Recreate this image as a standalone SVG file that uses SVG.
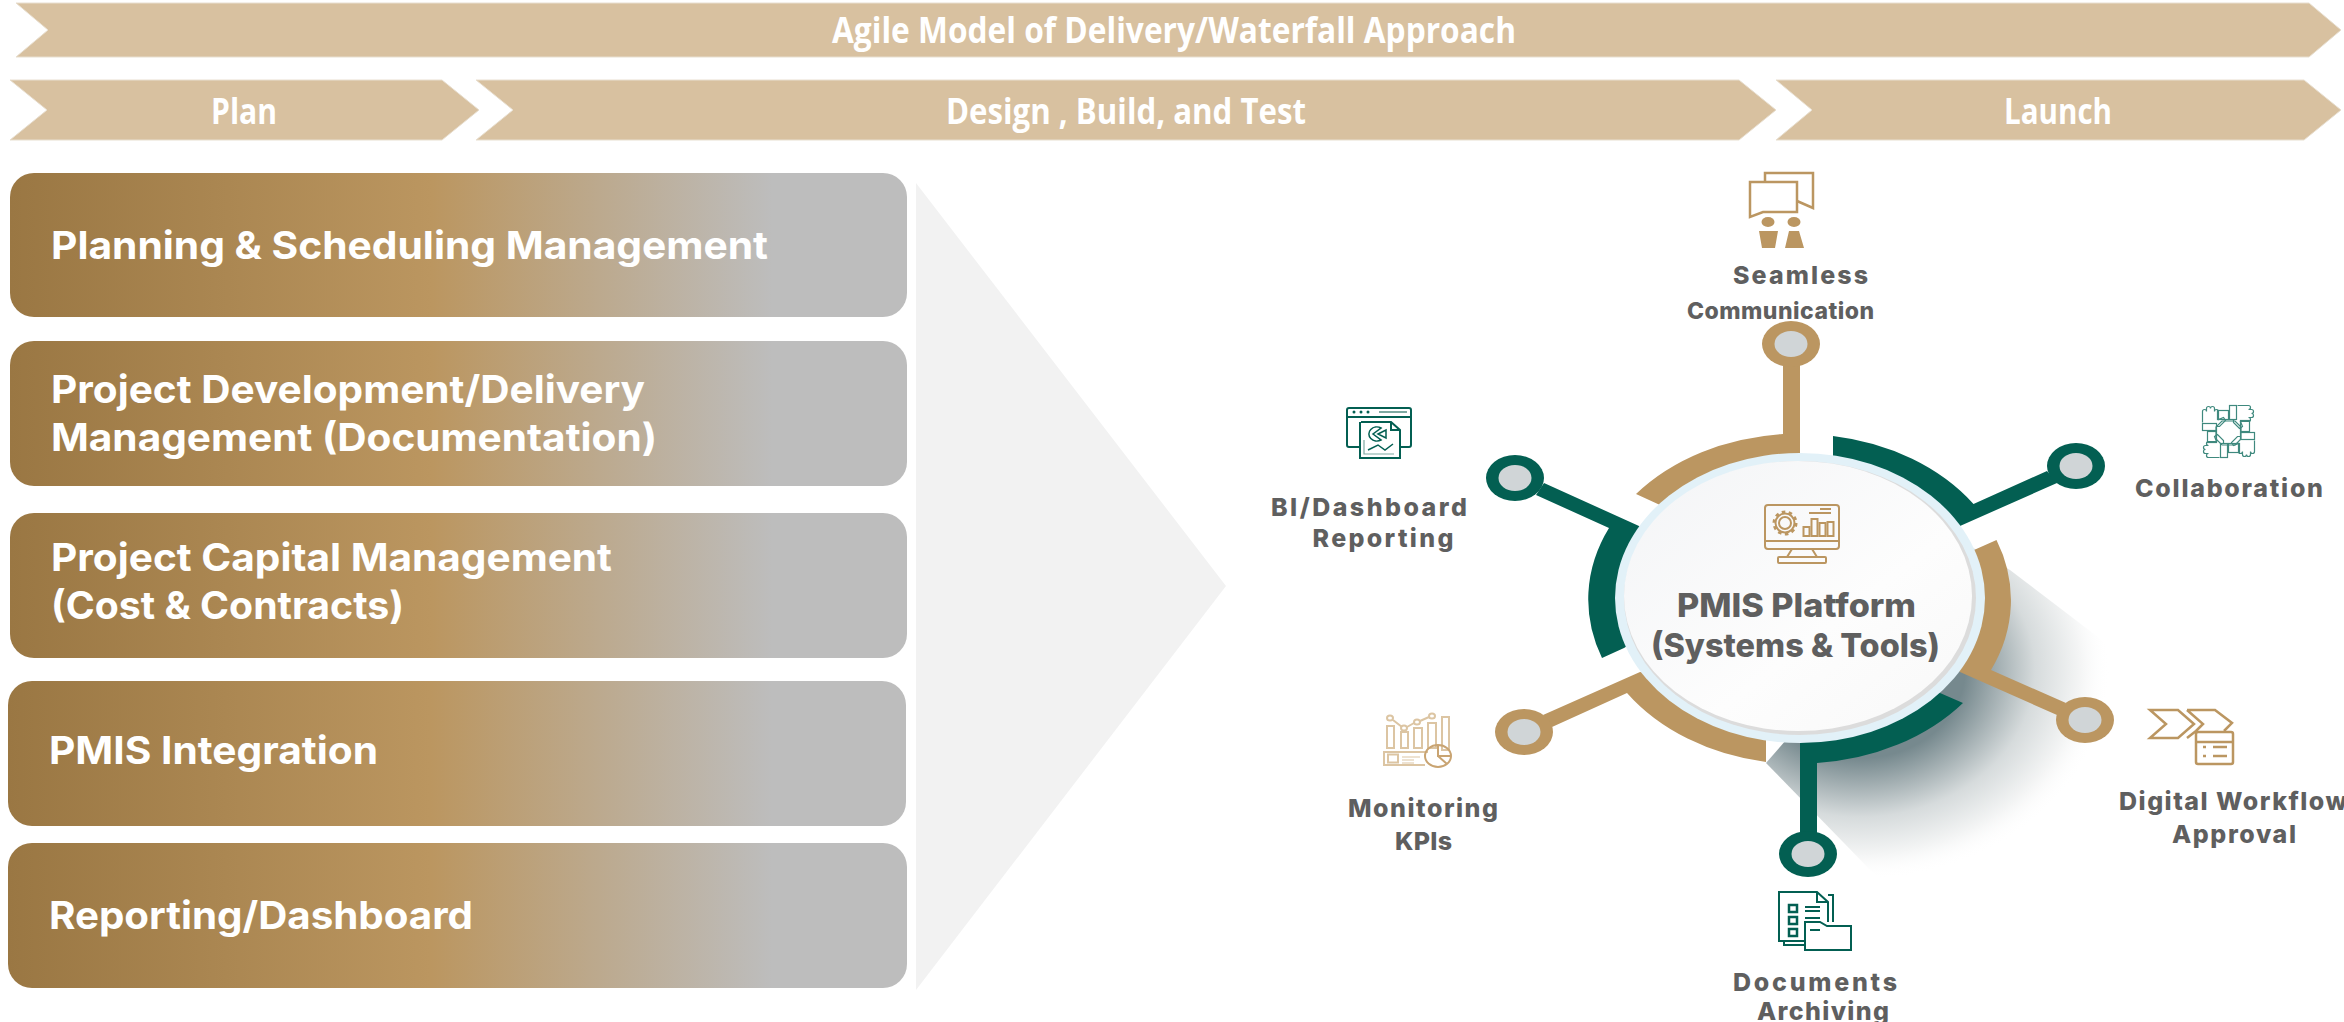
<svg xmlns="http://www.w3.org/2000/svg" xmlns:xlink="http://www.w3.org/1999/xlink" width="2344" height="1022" viewBox="0 0 2344 1022">
<style>
.chev{fill:#d8c1a0;stroke:#e8dfd0;stroke-width:1}
.chevt{font-family:"Open Sans","Liberation Sans",sans-serif;font-weight:700;font-size:35px;fill:#fff}
.box{fill:url(#boxg)}
.boxt{font-family:Inter,"Liberation Sans",sans-serif;font-weight:700;font-size:38px;fill:#fff}
.lab{font-family:Inter,"Liberation Sans",sans-serif;font-weight:800;font-size:25px;fill:#5f5f5f}
.ctr{font-family:Inter,"Liberation Sans",sans-serif;font-weight:800;font-size:33px;fill:#5f5f5f}
.teal{fill:#035f52}.tan{fill:#bb9661}
.hub{fill:#d0d5d7}
.it{fill:none;stroke:#bb9661;stroke-width:2}
.ig{fill:none;stroke:#035f52;stroke-width:2}
.ik{fill:none;stroke:#dcc5a3;stroke-width:2}
</style>
<defs>
<linearGradient id="boxg" x1="0" y1="0" x2="1" y2="0">
<stop offset="0" stop-color="#9a7743"/><stop offset="0.47" stop-color="#bb9660"/><stop offset="0.85" stop-color="#bdbdbd"/><stop offset="1" stop-color="#bdbdbd"/>
</linearGradient>
<radialGradient id="shad" gradientUnits="userSpaceOnUse" cx="0" cy="0" r="1" gradientTransform="translate(1860 670) scale(250 210)">
<stop offset="0.42" stop-color="#76898e"/><stop offset="0.55" stop-color="#a3afb2"/><stop offset="0.7" stop-color="#d6dbdc"/><stop offset="0.88" stop-color="#f4f5f5"/><stop offset="1" stop-color="#ffffff" stop-opacity="0"/>
</radialGradient>
<linearGradient id="ctrg" x1="0" y1="0" x2="1" y2="1">
<stop offset="0" stop-color="#f3f4f6"/><stop offset="0.6" stop-color="#fdfdfd"/><stop offset="1" stop-color="#f8f8f8"/>
</linearGradient>
<g id="hand">
<path d="M-26,-9V-20a2,2 0 0 1 4,0V-23a2,2 0 0 1 4,0V-23a2,2 0 0 1 4,0V-20a2,2 0 0 1 4,0V-12l5,-2l2,3l-6,6H-12"/>
<rect x="-26" y="-8" width="14" height="7"/>
<rect x="-11" y="-21" width="11" height="9"/>
</g>
</defs>

<g id="phase-chevrons">
<g id="agile"><path class="chev" d="M16,3H2309L2341,30L2309,57H16L48,30Z"/><text class="chevt" x="832" y="43" textLength="684" lengthAdjust="spacingAndGlyphs">Agile Model of Delivery/Waterfall Approach</text></g>
<g id="plan"><path class="chev" d="M10,80H442L479,110L442,140H10L47,110Z"/><text class="chevt" x="211" y="124" textLength="66" lengthAdjust="spacingAndGlyphs">Plan</text></g>
<g id="design"><path class="chev" d="M476,80H1739L1776,110L1739,140H476L513,110Z"/><text class="chevt" x="946" y="124" textLength="360" lengthAdjust="spacingAndGlyphs">Design , Build, and Test</text></g>
<g id="launch"><path class="chev" d="M1776,80H2304L2341,110L2304,140H1776L1812,110Z"/><text class="chevt" x="2004" y="124" textLength="108" lengthAdjust="spacingAndGlyphs">Launch</text></g>
</g>

<g id="box-planning"><rect class="box" x="10" y="173" width="897" height="144" rx="24" ry="24"/><text class="boxt" x="51" y="259" textLength="717" lengthAdjust="spacingAndGlyphs">Planning &amp; Scheduling Management</text></g>
<g id="box-development"><rect class="box" x="10" y="341" width="897" height="145" rx="24" ry="24"/><text class="boxt" x="51" y="403" textLength="594" lengthAdjust="spacingAndGlyphs">Project Development/Delivery</text><text class="boxt" x="51" y="451" textLength="606" lengthAdjust="spacingAndGlyphs">Management (Documentation)</text></g>
<g id="box-capital"><rect class="box" x="10" y="513" width="897" height="145" rx="24" ry="24"/><text class="boxt" x="51" y="571" textLength="561" lengthAdjust="spacingAndGlyphs">Project Capital Management</text><text class="boxt" x="51" y="619" textLength="353" lengthAdjust="spacingAndGlyphs">(Cost &amp; Contracts)</text></g>
<g id="box-integration"><rect class="box" x="8" y="681" width="898" height="145" rx="24" ry="24"/><text class="boxt" x="49" y="764" textLength="329" lengthAdjust="spacingAndGlyphs">PMIS Integration</text></g>
<g id="box-reporting"><rect class="box" x="8" y="843" width="899" height="145" rx="24" ry="24"/><text class="boxt" x="49" y="929" textLength="424" lengthAdjust="spacingAndGlyphs">Reporting/Dashboard</text></g>

<path id="big-arrow" fill="#f2f2f2" d="M916,183L1226,586L916,990Z"/>

<path id="shadow" fill="url(#shad)" d="M1960,540L2010,570L2111,647L2130,880H1880L1766,763Z"/>

<g id="connectors">
<path class="tan" d="M1636,494A211,165 0 0 1 1783,434V344H1800V470L1680,500L1660,505Z"/>
<path class="teal" d="M1833,436A211,165 0 0 1 1973.500,504L2047,471L2057,483L1960,526L1900,500L1833,470Z"/>
<path class="tan" d="M1996.500,540A211,165 0 0 1 1991,670L2066,703L2057,715L1960,672L1900,600L1974,550Z"/>
<path class="teal" d="M1963,703A211,165 0 0 1 1817,763V835H1800V740L1900,680L1940,693Z"/>
<path class="tan" d="M1766,762A211,165 0 0 1 1627,693L1552,727L1543,715L1640,672L1700,680L1766,735Z"/>
<path class="teal" d="M1609,528A211,165 0 0 0 1602,658L1624,648L1700,600L1639,526L1544,483L1536,495Z"/>
</g>

<g id="center">
<ellipse cx="1800" cy="598" rx="185" ry="145" fill="#e2f1f8"/>
<ellipse cx="1800" cy="598" rx="176" ry="137" fill="#dcdcdc"/>
<ellipse cx="1798" cy="596" rx="174" ry="135" fill="url(#ctrg)"/>
<g class="it">
<rect x="1765" y="505" width="74" height="44" rx="3"/>
<path d="M1765,541H1839M1792,549L1787,557M1812,549L1817,557M1809,513H1831M1820,509H1831"/>
<rect x="1778" y="557" width="48" height="6" rx="1"/>
<circle cx="1785" cy="523" r="6"/>
<circle cx="1785" cy="523" r="9.500"/>
<circle cx="1785" cy="523" r="11" stroke-width="3" stroke-dasharray="3.500 3.400"/>
<rect x="1803.500" y="527" width="6" height="9"/><rect x="1811.500" y="519" width="6" height="17"/><rect x="1819.500" y="523" width="6" height="13"/><rect x="1827.500" y="522" width="6" height="14"/>
</g>
<text class="ctr" x="1677" y="617" textLength="239" lengthAdjust="spacingAndGlyphs">PMIS Platform</text>
<text class="ctr" x="1651" y="657" textLength="289" lengthAdjust="spacingAndGlyphs">(Systems &amp; Tools)</text>
</g>

<g id="node-communication">
<ellipse class="tan" cx="1791" cy="344" rx="29" ry="23"/><ellipse class="hub" cx="1791" cy="344" rx="16.500" ry="13"/>
<g stroke="#bb9661" stroke-width="2.500" fill="#fff">
<path d="M1765,182V173H1813V208L1797,201" fill="none"/>
<path d="M1750,182H1797V212H1763L1750,217Z"/>
</g>
<g class="tan"><ellipse cx="1768" cy="222" rx="6.500" ry="5"/><ellipse cx="1794" cy="222" rx="6.500" ry="5"/>
<path d="M1759,231H1778L1775,248H1762ZM1789,231H1799L1804,248H1785Z"/></g>
<text class="lab" x="1733" y="284" textLength="135" lengthAdjust="spacing">Seamless</text>
<text class="lab" x="1687" y="319" textLength="187" lengthAdjust="spacing" style="font-size:23px">Communication</text>
</g>

<g id="node-dashboard">
<ellipse class="teal" cx="1515" cy="478" rx="29" ry="23"/><ellipse class="hub" cx="1515" cy="478" rx="16.500" ry="13"/>
<g class="ig">
<path d="M1360,447H1349a2,2 0 0 1-2,-2V410a2,2 0 0 1 2,-2H1409a2,2 0 0 1 2,2V445a2,2 0 0 1-2,2H1400M1347,417H1411"/>
<path d="M1379,412H1407" stroke="#7fa9a2"/>
<path d="M1361,422H1391L1400,430V458H1360V422M1391,422V430H1400"/>
<path d="M1381,428A8,7 0 1 0 1381,440L1373,434Z" stroke-width="1.500"/>
<path d="M1378,434L1386,430V438Z" stroke-width="1.500"/>
<path d="M1364,440V454H1394" stroke-width="1.200" stroke="#7fa9a2"/>
<path d="M1368,450L1378,445L1385,450L1393,444" stroke-width="1.500"/>
</g>
<g class="teal"><circle cx="1354" cy="412" r="1.500"/><circle cx="1361" cy="412" r="1.500"/><circle cx="1368" cy="412" r="1.500"/></g>
<text class="lab" x="1271" y="516" textLength="196" lengthAdjust="spacing">BI/Dashboard</text>
<text class="lab" x="1312.500" y="547" textLength="141" lengthAdjust="spacing">Reporting</text>
</g>

<g id="node-collaboration">
<ellipse class="teal" cx="2076" cy="466" rx="29" ry="23"/><ellipse class="hub" cx="2076" cy="466" rx="16.500" ry="13"/>
<g class="ig" style="stroke:#3f897e;stroke-width:1.200">
<path d="M2222,421H2235L2241,427V439L2235,445H2222L2216,439V427Z"/>
<g transform="translate(2228.500 431.500)"><use xlink:href="#hand"/><use xlink:href="#hand" transform="rotate(90)"/><use xlink:href="#hand" transform="rotate(180)"/><use xlink:href="#hand" transform="rotate(270)"/></g>
</g>
<text class="lab" x="2135" y="497" textLength="188" lengthAdjust="spacing">Collaboration</text>
</g>

<g id="node-workflow">
<ellipse class="tan" cx="2085" cy="720" rx="29" ry="23"/><ellipse class="hub" cx="2085" cy="720" rx="16.500" ry="13"/>
<g class="it" style="stroke-width:2.500">
<path d="M2150,710H2178L2194,724L2178,738H2150L2166,724Z"/>
<path d="M2187,710H2215L2232,723L2224,731M2196,731L2187,738M2187,710L2203,724L2196,731"/>
<rect x="2196" y="732" width="37" height="32" rx="2"/>
<path d="M2196,742H2233M2213,747H2227M2213,756H2227M2203,747H2206M2203,756H2206"/>
</g>
<text class="lab" x="2119" y="810" textLength="228" lengthAdjust="spacing">Digital Workflow</text>
<text class="lab" x="2172" y="843" textLength="124" lengthAdjust="spacing">Approval</text>
</g>

<g id="node-documents">
<ellipse class="teal" cx="1808" cy="854" rx="29" ry="23"/><ellipse class="hub" cx="1808" cy="854" rx="16.500" ry="13"/>
<g class="ig">
<path d="M1805,941H1779V892H1817L1828,902V922M1817,892V902H1828"/>
<path d="M1828,895H1833V922M1784,941V945H1805"/>
<path d="M1805,950V922H1820L1827,926H1851V950Z"/>
<path d="M1810,930H1820M1805,907H1820M1805,911H1820M1805,918H1820"/>
<rect x="1789" y="905" width="8" height="7" stroke-width="2.500"/><rect x="1789" y="917" width="8" height="7" stroke-width="2.500"/><rect x="1789" y="929" width="8" height="7" stroke-width="2.500"/>
</g>
<text class="lab" x="1733" y="991" textLength="164" lengthAdjust="spacing">Documents</text>
<text class="lab" x="1757" y="1020" textLength="132" lengthAdjust="spacing">Archiving</text>
</g>

<g id="node-kpis">
<ellipse class="tan" cx="1524" cy="732" rx="29" ry="23"/><ellipse class="hub" cx="1524" cy="732" rx="16.500" ry="13"/>
<g class="ik">
<rect x="1387" y="726" width="7" height="22"/><rect x="1401" y="732" width="7" height="16"/><rect x="1414" y="728" width="8" height="20"/><rect x="1428" y="723" width="8" height="25"/><rect x="1442" y="717" width="7" height="33"/>
<path d="M1393,720L1402,727M1407,727L1414,723M1420,721L1429,717"/>
<ellipse cx="1390" cy="718" rx="3" ry="2.500"/><ellipse cx="1404" cy="728" rx="3" ry="2.500"/><ellipse cx="1417" cy="722" rx="3" ry="2.500"/><ellipse cx="1432" cy="716" rx="3" ry="2.500"/>
<path d="M1425,765H1384V752H1428"/><rect x="1388" y="754.500" width="10" height="8"/>
<path d="M1402,757H1420M1402,760H1414M1402,763H1414" stroke-width="1"/>
<ellipse cx="1438" cy="756" rx="13" ry="11" style="stroke:#c9a472"/>
<path d="M1438,745V756H1451M1438,756L1447,764" style="stroke:#c9a472"/>
</g>
<text class="lab" x="1348" y="817" textLength="150" lengthAdjust="spacing">Monitoring</text>
<text class="lab" x="1395" y="850" textLength="57" lengthAdjust="spacing">KPIs</text>
</g>
</svg>
